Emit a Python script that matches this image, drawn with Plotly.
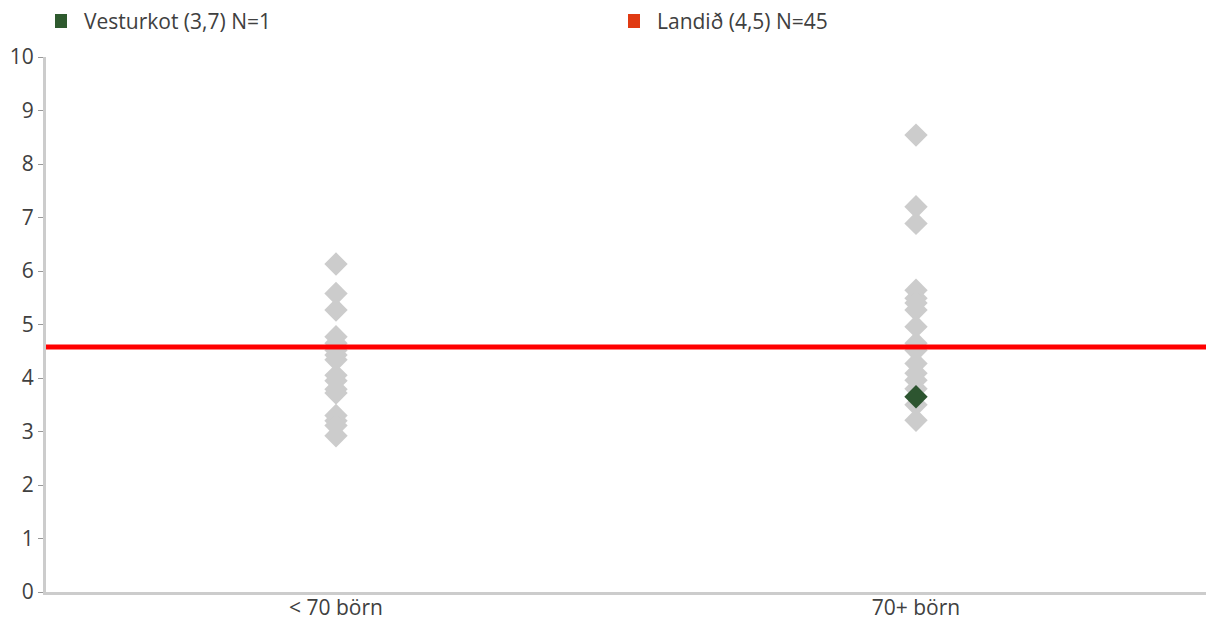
"""Dreifing leikskóla eftir stærð."""

import plotly.graph_objects as go

CATEGORIES = ["< 70 börn", "70+ börn"]

# gráir tíglar: allir leikskólar í hvorum flokki
SMALL_VALUES = [6.13, 5.58, 5.27, 4.77, 4.65, 4.52, 4.43, 4.34, 4.05, 3.95,
                3.79, 3.72, 3.30, 3.20, 3.11, 2.92]
LARGE_VALUES = [8.54, 7.20, 6.89, 5.64, 5.49, 5.40, 5.27, 4.96, 4.65, 4.52,
                4.27, 4.09, 3.96, 3.80, 3.50, 3.21]

HIGHLIGHT_NAME = "Vesturkot (3,7) N=1"
HIGHLIGHT_CAT = ["70+ börn"]
HIGHLIGHT_VALUE = [3.65]

NATIONAL_NAME = "Landið (4,5) N=45"
NATIONAL_VALUE = 4.58

LEGEND_NAMES = [HIGHLIGHT_NAME, NATIONAL_NAME]
LEGEND_COLORS = ["#2e5a2e", "#e03a12"]

_FONT = dict(family="Open Sans, sans-serif", size=21, color="#404040")
GREY = "#cccccc"
GREEN = "#2d5530"
RED = "#ff0000"

W, H = 1220, 620
MARGIN = dict(l=38, r=22, t=49, b=36)
PW = W - MARGIN["l"] - MARGIN["r"]
PH = H - MARGIN["t"] - MARGIN["b"]


def px_to_paper(x, y):
    """Pixel (fig) -> paper."""
    return (x - MARGIN["l"]) / PW, 1 + (MARGIN["t"] - y) / PH


fig = go.Figure()

fig.add_trace(go.Scatter(
    x=[CATEGORIES[0]] * len(SMALL_VALUES), y=SMALL_VALUES, mode="markers",
    marker=dict(symbol="diamond", size=18, color=GREY), showlegend=False,
))
fig.add_trace(go.Scatter(
    x=[CATEGORIES[1]] * len(LARGE_VALUES), y=LARGE_VALUES, mode="markers",
    marker=dict(symbol="diamond", size=18, color=GREY), showlegend=False,
))
fig.add_trace(go.Scatter(
    x=HIGHLIGHT_CAT, y=HIGHLIGHT_VALUE, mode="markers", name=HIGHLIGHT_NAME,
    marker=dict(symbol="diamond", size=18, color=GREEN), showlegend=False,
))

fig.add_hline(y=NATIONAL_VALUE, line=dict(color=RED, width=5), layer="above")

# skýringar teiknaðar í spássíu
for i, (name, color) in enumerate(zip(LEGEND_NAMES, LEGEND_COLORS)):
    x0 = 47 + i * 573
    sx0, sy0 = px_to_paper(x0, 6)
    sx1, sy1 = px_to_paper(x0 + 12, 20)
    fig.add_shape(type="rect", xref="paper", yref="paper",
                  x0=sx0, x1=sx1, y0=sy1, y1=sy0,
                  fillcolor=color, line=dict(width=0))
    tx, ty = px_to_paper(x0 + 27, 13)
    fig.add_annotation(xref="paper", yref="paper", x=tx, y=ty,
                       text=name, showarrow=False,
                       xanchor="left", yanchor="middle", font=dict(size=21))

fig.update_layout(
    width=W, height=H,
    margin=MARGIN,
    font=_FONT,
    showlegend=False,
    plot_bgcolor="white", paper_bgcolor="white",
    xaxis=dict(
        type="category", categoryorder="array", categoryarray=CATEGORIES,
        range=[-0.5, 1.5], showgrid=False, zeroline=False,
        showline=True, linecolor=GREY, linewidth=3,
        ticks="", automargin=False, ticklabelstandoff=-5,
    ),
    yaxis=dict(
        range=[0, 10], dtick=1, showgrid=False, zeroline=False,
        showline=True, linecolor=GREY, linewidth=3,
        ticks="outside", ticklen=5, tickcolor="#999999", tickwidth=1,
        automargin=False,
    ),
)

fig.write_html("out.html")
